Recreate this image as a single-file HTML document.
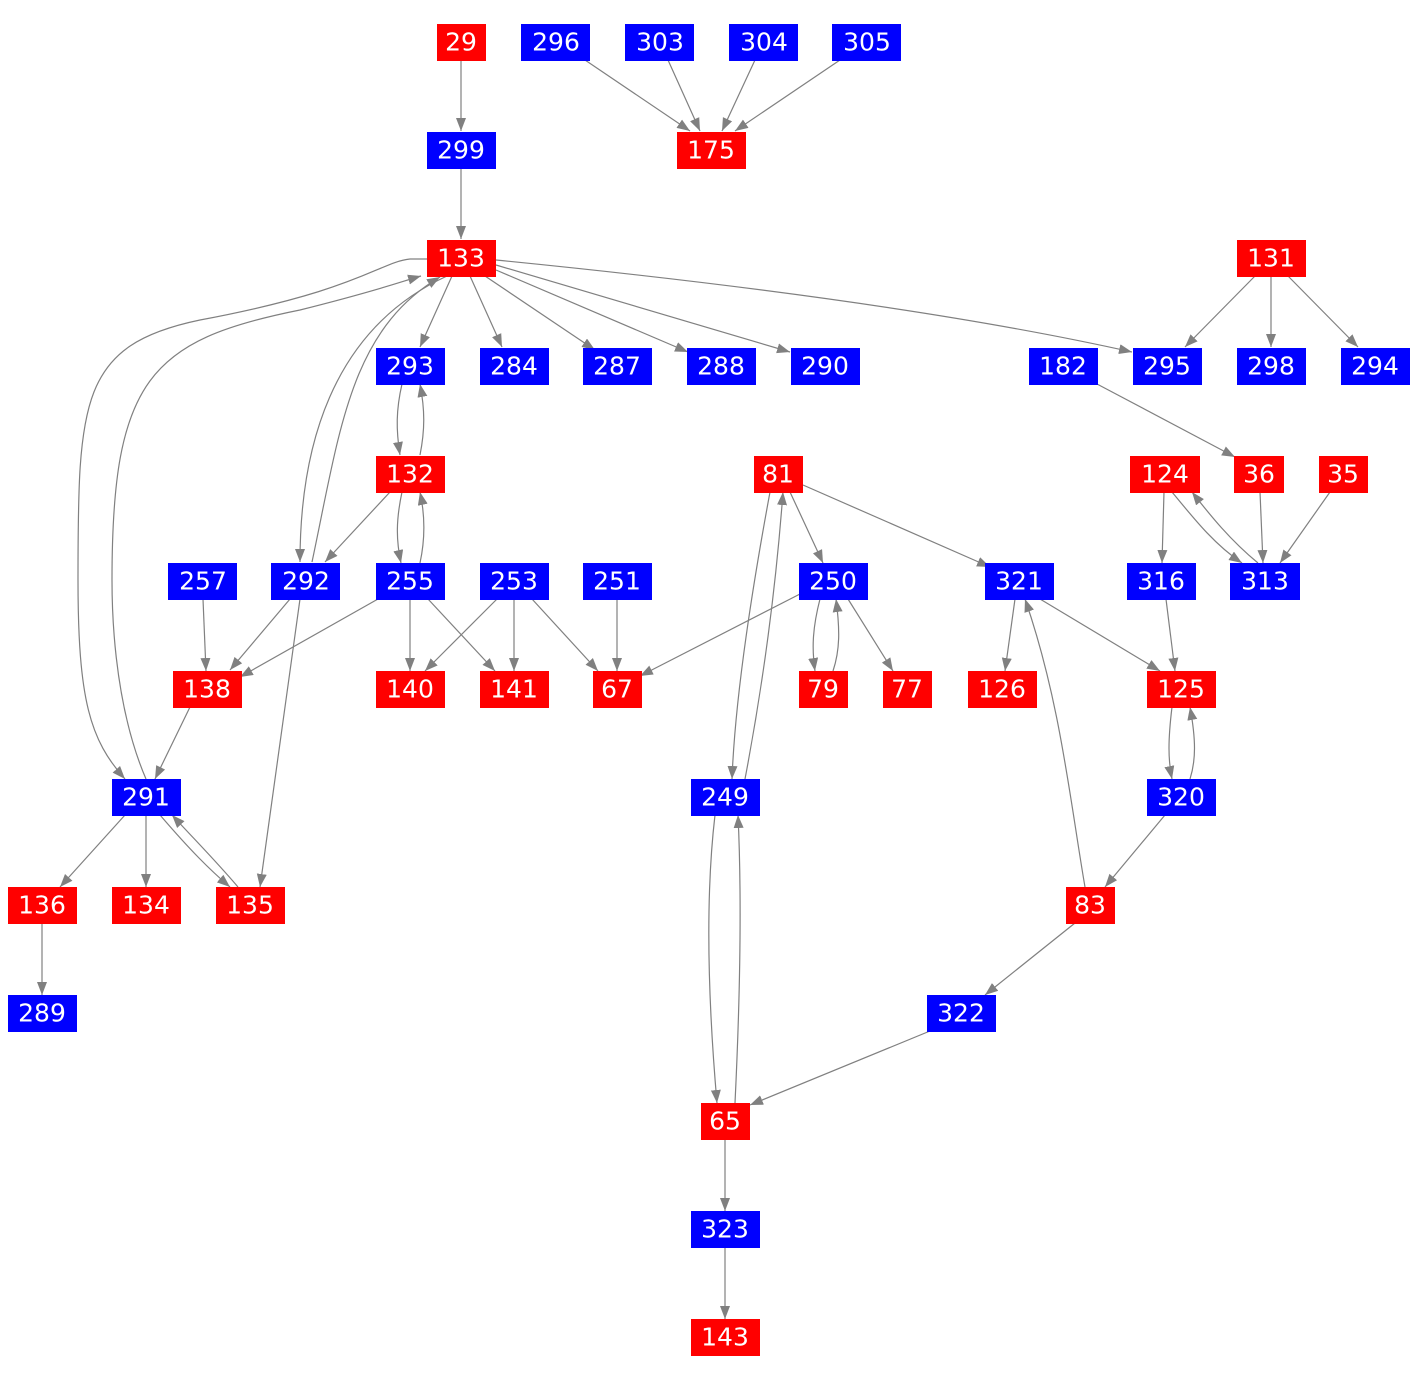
<!DOCTYPE html>
<html><head><meta charset="utf-8"><style>
body{margin:0;background:#fff;}
svg{display:block;}
text{font-family:"DejaVu Sans","Liberation Sans",sans-serif;font-size:25px;fill:#fff;text-anchor:middle;dominant-baseline:central;}
</style></head><body>
<svg width="1417" height="1379" viewBox="0 0 1417 1379" xmlns="http://www.w3.org/2000/svg">
<defs><marker id="a" markerUnits="userSpaceOnUse" markerWidth="14" markerHeight="11" refX="13" refY="5" orient="auto"><path d="M0,0 L13,5 L0,10 Z" fill="#808080"/></marker></defs>
<g fill="none" stroke="#808080" stroke-width="1.2" marker-end="url(#a)">
<path d="M461 60 L461 131"/>
<path d="M461 168 L461 239"/>
<path d="M585 60 L690 131"/>
<path d="M668 60 L700 131"/>
<path d="M755 60 L722 131"/>
<path d="M840 60 L735 131"/>
<path d="M452 276 L420 347"/>
<path d="M470 276 L502 347"/>
<path d="M485 276 L595 350"/>
<path d="M496 270 L688 352"/>
<path d="M496 265 L790 352"/>
<path d="M496 260 Q 900 300 1132 352"/>
<path d="M427 259 L410 259 C 380 262, 360 290, 200 320 C 80 345, 78 400, 78 580 C 78 700, 90 740, 125 779"/>
<path d="M146 779 C 112 700, 112 600, 112 580 C 112 380, 150 340, 300 310 C 380 290, 400 282, 421 276"/>
<path d="M447 276 C 330 330, 300 450, 300 562"/>
<path d="M312 562 C 340 430, 350 330, 440 277"/>
<path d="M1255 276 L1185 347"/>
<path d="M1271 276 L1271 347"/>
<path d="M1288 276 L1358 347"/>
<path d="M1097 384 L1235 457"/>
<path d="M402 384 C 396 410 396 430 400 455"/>
<path d="M420 455 C 425 430 425 410 420 384"/>
<path d="M390 492 L325 562"/>
<path d="M402 492 C 396 520 396 540 401 563"/>
<path d="M420 563 C 425 540 425 515 420 492"/>
<path d="M290 599 L230 670"/>
<path d="M300 599 L260 887"/>
<path d="M378 599 L240 677"/>
<path d="M410 599 L410 671"/>
<path d="M428 599 L495 671"/>
<path d="M497 599 L425 671"/>
<path d="M514 599 L514 671"/>
<path d="M532 599 L598 671"/>
<path d="M617 599 L617 671"/>
<path d="M203 599 L206 671"/>
<path d="M190 707 L155 779"/>
<path d="M125 815 L60 887"/>
<path d="M146 815 L146 887"/>
<path d="M160 815 C 190 850, 210 870, 230 887"/>
<path d="M238 887 C 215 860, 195 840, 172 815"/>
<path d="M42 923 L42 995"/>
<path d="M790 492 L823 563"/>
<path d="M803 485 L990 567"/>
<path d="M770 492 C 750 600, 735 700, 732 779"/>
<path d="M745 779 C 760 700, 775 600, 783 492"/>
<path d="M800 594 L640 676"/>
<path d="M820 599 C 812 630, 812 650, 815 671"/>
<path d="M833 671 C 840 650, 840 630, 836 599"/>
<path d="M848 599 L893 671"/>
<path d="M1015 599 L1005 671"/>
<path d="M1040 599 L1160 671"/>
<path d="M1085 887 C 1070 800, 1060 700, 1025 599"/>
<path d="M1166 599 L1175 671"/>
<path d="M1164 492 L1162 563"/>
<path d="M1172 492 C 1195 520, 1215 545, 1242 563"/>
<path d="M1258 563 C 1230 540, 1210 515, 1192 492"/>
<path d="M1260 492 L1263 563"/>
<path d="M1330 492 L1280 563"/>
<path d="M1172 707 C 1168 740, 1168 760, 1172 779"/>
<path d="M1190 779 C 1196 760, 1196 740, 1190 707"/>
<path d="M1165 815 L1105 887"/>
<path d="M1075 923 L985 995"/>
<path d="M930 1031 L750 1105"/>
<path d="M715 815 C 705 900, 708 1000, 717 1103"/>
<path d="M735 1103 C 740 1000, 742 900, 738 815"/>
<path d="M725 1139 L725 1211"/>
<path d="M725 1247 L725 1319"/>
</g>
<g>
<rect x="437" y="24" width="49" height="37" fill="#f00"/><text x="461" y="42">29</text>
<rect x="521" y="24" width="69" height="37" fill="#00f"/><text x="556" y="42">296</text>
<rect x="625" y="24" width="69" height="37" fill="#00f"/><text x="660" y="42">303</text>
<rect x="729" y="24" width="69" height="37" fill="#00f"/><text x="764" y="42">304</text>
<rect x="832" y="24" width="69" height="37" fill="#00f"/><text x="867" y="42">305</text>
<rect x="427" y="132" width="69" height="37" fill="#00f"/><text x="461" y="150">299</text>
<rect x="677" y="132" width="69" height="37" fill="#f00"/><text x="711" y="150">175</text>
<rect x="427" y="240" width="69" height="37" fill="#f00"/><text x="461" y="258">133</text>
<rect x="1237" y="240" width="69" height="37" fill="#f00"/><text x="1271" y="258">131</text>
<rect x="376" y="348" width="69" height="37" fill="#00f"/><text x="410" y="366">293</text>
<rect x="480" y="348" width="69" height="37" fill="#00f"/><text x="514" y="366">284</text>
<rect x="583" y="348" width="69" height="37" fill="#00f"/><text x="617" y="366">287</text>
<rect x="687" y="348" width="69" height="37" fill="#00f"/><text x="721" y="366">288</text>
<rect x="791" y="348" width="69" height="37" fill="#00f"/><text x="825" y="366">290</text>
<rect x="1029" y="348" width="69" height="37" fill="#00f"/><text x="1063" y="366">182</text>
<rect x="1133" y="348" width="69" height="37" fill="#00f"/><text x="1167" y="366">295</text>
<rect x="1237" y="348" width="69" height="37" fill="#00f"/><text x="1271" y="366">298</text>
<rect x="1341" y="348" width="69" height="37" fill="#00f"/><text x="1375" y="366">294</text>
<rect x="376" y="456" width="69" height="37" fill="#f00"/><text x="410" y="474">132</text>
<rect x="754" y="456" width="49" height="37" fill="#f00"/><text x="778" y="474">81</text>
<rect x="1130" y="456" width="70" height="37" fill="#f00"/><text x="1165" y="474">124</text>
<rect x="1234" y="456" width="50" height="37" fill="#f00"/><text x="1259" y="474">36</text>
<rect x="1319" y="456" width="49" height="37" fill="#f00"/><text x="1343" y="474">35</text>
<rect x="168" y="563" width="69" height="37" fill="#00f"/><text x="203" y="581">257</text>
<rect x="271" y="563" width="69" height="37" fill="#00f"/><text x="306" y="581">292</text>
<rect x="376" y="563" width="69" height="37" fill="#00f"/><text x="410" y="581">255</text>
<rect x="480" y="563" width="69" height="37" fill="#00f"/><text x="514" y="581">253</text>
<rect x="583" y="563" width="69" height="37" fill="#00f"/><text x="617" y="581">251</text>
<rect x="799" y="563" width="69" height="37" fill="#00f"/><text x="833" y="581">250</text>
<rect x="985" y="563" width="69" height="37" fill="#00f"/><text x="1019" y="581">321</text>
<rect x="1127" y="563" width="69" height="37" fill="#00f"/><text x="1161" y="581">316</text>
<rect x="1230" y="563" width="70" height="37" fill="#00f"/><text x="1265" y="581">313</text>
<rect x="173" y="671" width="69" height="37" fill="#f00"/><text x="207" y="689">138</text>
<rect x="376" y="671" width="69" height="37" fill="#f00"/><text x="410" y="689">140</text>
<rect x="480" y="671" width="69" height="37" fill="#f00"/><text x="514" y="689">141</text>
<rect x="593" y="671" width="49" height="37" fill="#f00"/><text x="617" y="689">67</text>
<rect x="799" y="671" width="49" height="37" fill="#f00"/><text x="823" y="689">79</text>
<rect x="883" y="671" width="49" height="37" fill="#f00"/><text x="907" y="689">77</text>
<rect x="968" y="671" width="69" height="37" fill="#f00"/><text x="1002" y="689">126</text>
<rect x="1147" y="671" width="69" height="37" fill="#f00"/><text x="1181" y="689">125</text>
<rect x="112" y="779" width="69" height="37" fill="#00f"/><text x="146" y="797">291</text>
<rect x="691" y="779" width="69" height="37" fill="#00f"/><text x="725" y="797">249</text>
<rect x="1147" y="779" width="69" height="37" fill="#00f"/><text x="1181" y="797">320</text>
<rect x="8" y="887" width="69" height="37" fill="#f00"/><text x="42" y="905">136</text>
<rect x="112" y="887" width="69" height="37" fill="#f00"/><text x="146" y="905">134</text>
<rect x="216" y="887" width="69" height="37" fill="#f00"/><text x="250" y="905">135</text>
<rect x="1066" y="887" width="49" height="37" fill="#f00"/><text x="1090" y="905">83</text>
<rect x="8" y="995" width="69" height="37" fill="#00f"/><text x="42" y="1013">289</text>
<rect x="927" y="995" width="69" height="37" fill="#00f"/><text x="961" y="1013">322</text>
<rect x="701" y="1103" width="49" height="37" fill="#f00"/><text x="725" y="1121">65</text>
<rect x="691" y="1211" width="69" height="37" fill="#00f"/><text x="725" y="1229">323</text>
<rect x="691" y="1319" width="69" height="37" fill="#f00"/><text x="725" y="1337">143</text>
</g>
</svg>
</body></html>
